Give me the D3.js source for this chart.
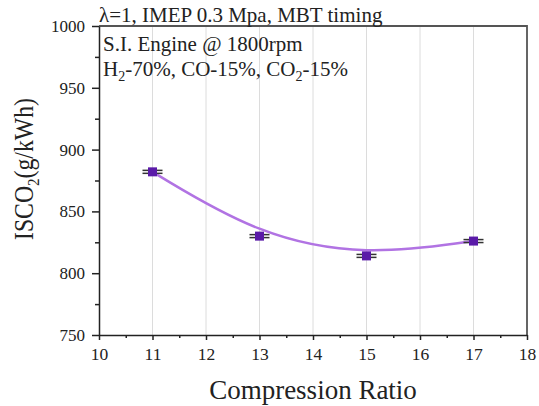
<!DOCTYPE html>
<html>
<head>
<meta charset="utf-8">
<script src="https://cdn.jsdelivr.net/npm/d3@7"></script>
<style>
  body { margin: 0; background: #fff; }
  svg text { font-family: 'Liberation Serif', 'DejaVu Serif', serif !important; fill: #222; }
</style>
</head>
<body>
<svg id="chart" width="539" height="406"></svg>
<script>
// data
let ratios = [11, 13, 15, 17]
let isco2 = [882, 830, 814, 826]
let errors = [1.2, 1.2, 1.2, 1.2]
let xTicks = [10, 11, 12, 13, 14, 15, 16, 17, 18]
let yTicks = [750, 800, 850, 900, 950, 1000]

function main() {
    let svg = d3.select('#chart'),
        margin = {top: 26, left: 99, right: 12, bottom: 71},
        w = +svg.attr('width'),
        h = +svg.attr('height'),
        width = w - margin.left - margin.right,
        height = h - margin.top - margin.bottom,
        serif = 'Liberation Serif'

    let x = d3.scaleLinear().domain([10, 18]).range([margin.left, margin.left + width])
    let y = d3.scaleLinear().domain([750, 1000]).range([margin.top + height, margin.top])

    let data = ratios.map((r, i) => ({x: r, y: isco2[i], e: errors[i]}))

    // vertical grid
    svg.append('g')
        .selectAll('line')
        .data(xTicks.slice(1, -1))
        .enter()
        .append('line')
        .attr('x1', d => x(d)).attr('x2', d => x(d))
        .attr('y1', y(1000)).attr('y2', y(750))
        .attr('stroke', '#dcdcdc')
        .attr('stroke-width', 1)

    // top + right frame
    svg.append('path')
        .attr('d', d3.line()([[x(10), y(1000)], [x(18), y(1000)], [x(18), y(750)]]))
        .attr('fill', 'none')
        .attr('stroke', '#555')
        .attr('stroke-width', 1.8)

    // minor ticks
    let xMinor = d3.range(10.5, 18, 1)
    svg.append('g')
        .attr('transform', 'translate(0,' + y(750) + ')')
        .call(d3.axisBottom(x).tickValues(xMinor).tickSize(3).tickFormat(''))
        .call(g => g.select('.domain').remove())
    let yMinor = d3.range(775, 1000, 50)
    svg.append('g')
        .attr('transform', 'translate(' + x(10) + ',0)')
        .call(d3.axisLeft(y).tickValues(yMinor).tickSize(4).tickFormat(''))
        .call(g => g.select('.domain').remove())

    let xAxis = svg.append('g')
        .attr('transform', 'translate(0,' + y(750) + ')')
        .call(d3.axisBottom(x).tickValues(xTicks).tickSize(5).tickSizeOuter(0).tickPadding(8).tickFormat(d3.format('d')))
    xAxis.attr('font-family', serif)
    xAxis.selectAll('text').attr('font-size', 17.5).attr('fill', '#222')

    let yAxis = svg.append('g')
        .attr('transform', 'translate(' + x(10) + ',0)')
        .call(d3.axisLeft(y).tickValues(yTicks).tickSize(7).tickSizeOuter(0).tickPadding(7).tickFormat(d3.format('d')))
    yAxis.attr('font-family', serif)
    yAxis.selectAll('text').attr('font-size', 17).attr('fill', '#222')

    svg.selectAll('.domain, .tick line').attr('stroke', '#222').attr('stroke-width', 1.5)

    // B-spline through the points
    svg.append('path')
        .datum(data)
        .attr('d', d3.line().x(d => x(d.x)).y(d => y(d.y)).curve(d3.curveBasis))
        .attr('fill', 'none')
        .attr('stroke', '#b173e3')
        .attr('stroke-width', 2.5)

    // error caps
    let cap = 10
    data.forEach(d => {
        [d.y - d.e, d.y + d.e].forEach(v => {
            svg.append('line')
                .attr('x1', x(d.x) - cap).attr('x2', x(d.x) + cap)
                .attr('y1', y(v)).attr('y2', y(v))
                .attr('stroke', '#333')
                .attr('stroke-width', 1.5)
        })
    })

    svg.selectAll('rect.pt')
        .data(data)
        .enter()
        .append('rect')
        .attr('class', 'pt')
        .attr('x', d => x(d.x) - 4.5)
        .attr('y', d => y(d.y) - 4.5)
        .attr('width', 9)
        .attr('height', 9)
        .attr('fill', '#5a1aa8')

    // texts
    svg.append('text')
        .attr('x', x(10)).attr('y', 22)
        .attr('font-size', 21)
        .text('λ=1, IMEP 0.3 Mpa, MBT timing')

    svg.append('text')
        .attr('x', x(10) + 4).attr('y', 51)
        .attr('font-size', 21)
        .text('S.I. Engine @ 1800rpm')

    let t = svg.append('text')
        .attr('x', x(10) + 4).attr('y', 76)
        .attr('font-size', 21)
    t.append('tspan').text('H')
    t.append('tspan').attr('font-size', 14).attr('dy', 5).text('2')
    t.append('tspan').attr('dy', -5).text('-70%, CO-15%, CO')
    t.append('tspan').attr('font-size', 14).attr('dy', 5).text('2')
    t.append('tspan').attr('dy', -5).text('-15%')

    svg.append('text')
        .attr('text-anchor', 'middle')
        .attr('x', margin.left + width / 2)
        .attr('y', 399)
        .attr('font-size', 27)
        .text('Compression Ratio')

    let yl = svg.append('text')
        .attr('text-anchor', 'middle')
        .attr('transform', 'translate(33,169) rotate(-90)')
        .attr('font-size', 27)
        .attr('textLength', 142)
        .attr('lengthAdjust', 'spacingAndGlyphs')
    yl.append('tspan').text('ISCO')
    yl.append('tspan').attr('font-size', 17).attr('dy', 6).text('2')
    yl.append('tspan').attr('dy', -6).text('(g/kWh)')
}

main()
</script>
</body>
</html>
